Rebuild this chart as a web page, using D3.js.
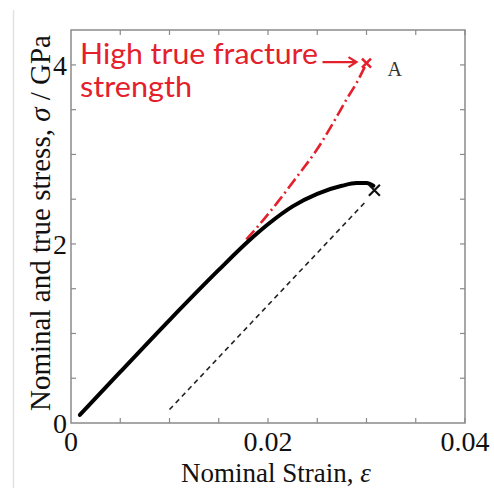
<!DOCTYPE html>
<html>
<head>
<meta charset="utf-8">
<script src="https://cdn.jsdelivr.net/npm/d3@7"></script>
<style>
  body { margin: 0; background: #fff; }
  svg { display: block; }
</style>
</head>
<body>
<svg></svg>
<script>
// nominal stress-strain curve (strain, GPa)
const nominalStrain = [0.0009, 0.005, 0.010, 0.015, 0.018, 0.020, 0.0225, 0.025, 0.0275, 0.029, 0.030, 0.0307];
const nominalStress = [0.09, 0.57, 1.15, 1.71, 2.03, 2.22, 2.42, 2.56, 2.65, 2.68, 2.68, 2.65];

// true stress curve, red dash-dot
const trueStrain = [0.0178, 0.0190, 0.0210, 0.0230, 0.0250, 0.0265, 0.0280, 0.0290, 0.0300];
const trueStress = [2.05, 2.20, 2.47, 2.76, 3.06, 3.33, 3.62, 3.80, 4.02];

// elastic unloading line
const unloadStrain = [0.0100, 0.0298];
const unloadStress = [0.15, 2.46];

// fracture points
const fractureNominal = [0.0308, 2.60];
const fractureTrue = [0.0300, 4.02];

const xTicks = [0, 0.02, 0.04];
const xTickLabels = ["0", "0.02", "0.04"];
const yTicks = [0, 2, 4];
const yTickLabels = ["0", "2", "4"];

function draw() {
    const margin = {top: 30, right: 29, bottom: 65, left: 71},
          width = 494 - margin.left - margin.right,
          height = 488 - margin.top - margin.bottom;

    const root = d3.select("svg")
        .attr("width", 494)
        .attr("height", 488);

    // faint border from the scanned page
    root.append("line")
        .attr("x1", 13.5).attr("x2", 13.5)
        .attr("y1", 10).attr("y2", 488)
        .attr("stroke", "#e2e2e2")
        .attr("stroke-width", 1.5);

    const svg = root.append("g")
        .attr("transform", `translate(${margin.left},${margin.top})`);

    const x = d3.scaleLinear().domain([0, 0.04]).range([0, width]);
    const y = d3.scaleLinear().domain([0, 4.39]).range([height, 0]);

    const serif = "'Liberation Serif', 'Times New Roman', serif";
    const axisColor = "#8a8a8a";

    // inward minor ticks on all four sides
    const xMinor = d3.range(0.005, 0.04, 0.005);
    const yMinor = d3.range(0.5, 4.39, 0.5);
    const tick = 5;

    svg.append("g").selectAll("line")
        .data(xMinor)
        .join("line")
        .attr("x1", d => x(d)).attr("x2", d => x(d))
        .attr("y1", height).attr("y2", height - tick)
        .attr("stroke", axisColor).attr("stroke-width", 1.2);
    svg.append("g").selectAll("line")
        .data(xMinor)
        .join("line")
        .attr("x1", d => x(d)).attr("x2", d => x(d))
        .attr("y1", 0).attr("y2", tick)
        .attr("stroke", axisColor).attr("stroke-width", 1.2);
    svg.append("g").selectAll("line")
        .data(yMinor)
        .join("line")
        .attr("x1", 0).attr("x2", tick)
        .attr("y1", d => y(d)).attr("y2", d => y(d))
        .attr("stroke", axisColor).attr("stroke-width", 1.2);
    svg.append("g").selectAll("line")
        .data(yMinor)
        .join("line")
        .attr("x1", width).attr("x2", width - tick)
        .attr("y1", d => y(d)).attr("y2", d => y(d))
        .attr("stroke", axisColor).attr("stroke-width", 1.2);

    // plot box
    svg.append("rect")
        .attr("x", 0).attr("y", 0)
        .attr("width", width).attr("height", height)
        .attr("fill", "none")
        .attr("stroke", axisColor)
        .attr("stroke-width", 1.5);

    // tick labels
    svg.append("g").selectAll("text")
        .data(xTicks)
        .join("text")
        .attr("x", d => x(d))
        .attr("y", height + 28)
        .attr("text-anchor", "middle")
        .attr("font-family", serif)
        .attr("font-size", 28)
        .attr("fill", "#111")
        .text((d, i) => xTickLabels[i]);

    svg.append("g").selectAll("text")
        .data(yTicks)
        .join("text")
        .attr("x", -4)
        .attr("y", d => y(d) + 10)
        .attr("text-anchor", "end")
        .attr("font-family", serif)
        .attr("font-size", 28)
        .attr("fill", "#111")
        .text((d, i) => yTickLabels[i]);

    // axis titles
    const xt = svg.append("text")
        .attr("x", 205)
        .attr("y", height + 59)
        .attr("text-anchor", "middle")
        .attr("font-family", serif)
        .attr("font-size", 27)
        .attr("fill", "#111");
    xt.append("tspan").text("Nominal Strain, ");
    xt.append("tspan").attr("font-style", "italic").text("ε");

    const yt = svg.append("text")
        .attr("transform", `translate(-21,${193}) rotate(-90)`)
        .attr("text-anchor", "middle")
        .attr("font-family", serif)
        .attr("font-size", 29)
        .attr("fill", "#111");
    yt.append("tspan").text("Nominal and true stress, ");
    yt.append("tspan").attr("font-style", "italic").text("σ");
    yt.append("tspan").text(" / GPa");

    const line = d3.line()
        .x(d => x(d[0]))
        .y(d => y(d[1]))
        .curve(d3.curveMonotoneX);

    // dashed unloading line
    svg.append("path")
        .datum(d3.zip(unloadStrain, unloadStress))
        .attr("fill", "none")
        .attr("stroke", "#222")
        .attr("stroke-width", 1.6)
        .attr("stroke-dasharray", "5,4")
        .attr("d", line);

    // red true stress line
    const red = "#e3202c";
    svg.append("path")
        .datum(d3.zip(trueStrain, trueStress))
        .attr("fill", "none")
        .attr("stroke", red)
        .attr("stroke-width", 2.6)
        .attr("stroke-dasharray", "12,4,2,4")
        .attr("d", line);

    // nominal curve
    svg.append("path")
        .datum(d3.zip(nominalStrain, nominalStress))
        .attr("fill", "none")
        .attr("stroke", "#000")
        .attr("stroke-width", 4)
        .attr("stroke-linecap", "round")
        .attr("d", line);

    // fracture markers
    function cross(pt, r, color, w) {
        const cx = x(pt[0]), cy = y(pt[1]);
        svg.append("path")
            .attr("d", `M${cx - r},${cy - r}L${cx + r},${cy + r}M${cx - r},${cy + r}L${cx + r},${cy - r}`)
            .attr("stroke", color)
            .attr("stroke-width", w)
            .attr("fill", "none");
    }
    cross(fractureNominal, 5.5, "#111", 2.2);
    cross(fractureTrue, 4.5, red, 2.6);

    // "A" label
    svg.append("text")
        .attr("x", x(fractureTrue[0]) + 21)
        .attr("y", y(fractureTrue[1]) + 13)
        .attr("font-family", serif)
        .attr("font-size", 20)
        .attr("fill", "#333")
        .text("A");

    // annotation text + arrow
    const sans = "Lato, 'Open Sans', sans-serif";
    svg.append("text")
        .attr("x", 9)
        .attr("y", 34)
        .attr("font-family", sans)
        .attr("font-size", 29)
        .attr("fill", red)
        .attr("textLength", 238)
        .attr("lengthAdjust", "spacingAndGlyphs")
        .text("High true fracture");
    svg.append("text")
        .attr("x", 9)
        .attr("y", 67)
        .attr("font-family", sans)
        .attr("font-size", 29)
        .attr("fill", red)
        .attr("textLength", 112)
        .attr("lengthAdjust", "spacingAndGlyphs")
        .text("strength");

    const ax0 = x(fractureTrue[0]) - 44, ax1 = x(fractureTrue[0]) - 10, ay = y(fractureTrue[1]) - 1;
    svg.append("path")
        .attr("d", `M${ax0},${ay}L${ax1},${ay}M${ax1 - 8},${ay - 5}L${ax1},${ay}L${ax1 - 8},${ay + 5}`)
        .attr("stroke", red)
        .attr("stroke-width", 2.2)
        .attr("fill", "none");
}

draw();
</script>
</body>
</html>
